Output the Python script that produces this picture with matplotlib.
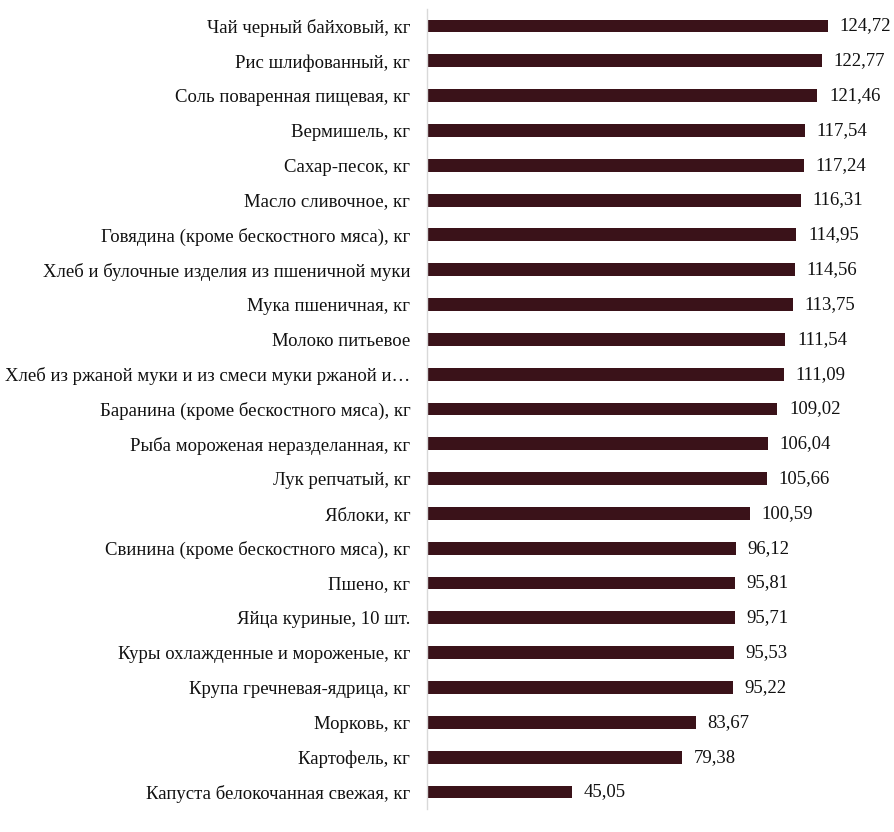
import matplotlib
matplotlib.use("Agg")
import matplotlib.pyplot as plt

# =====================================================
# Данные
# =====================================================
categories = [
    "Чай черный байховый, кг",
    "Рис шлифованный, кг",
    "Соль поваренная пищевая, кг",
    "Вермишель, кг",
    "Сахар-песок, кг",
    "Масло сливочное, кг",
    "Говядина (кроме бескостного мяса), кг",
    "Хлеб и булочные изделия из пшеничной муки",
    "Мука пшеничная, кг",
    "Молоко питьевое",
    "Хлеб из ржаной муки и из смеси муки ржаной и…",
    "Баранина (кроме бескостного мяса), кг",
    "Рыба мороженая неразделанная, кг",
    "Лук репчатый, кг",
    "Яблоки, кг",
    "Свинина (кроме бескостного мяса), кг",
    "Пшено, кг",
    "Яйца куриные, 10 шт.",
    "Куры охлажденные и мороженые, кг",
    "Крупа гречневая-ядрица, кг",
    "Морковь, кг",
    "Картофель, кг",
    "Капуста белокочанная свежая, кг",
]
values = [124.72, 122.77, 121.46, 117.54, 117.24, 116.31, 114.95, 114.56,
          113.75, 111.54, 111.09, 109.02, 106.04, 105.66, 100.59, 96.12,
          95.81, 95.71, 95.53, 95.22, 83.67, 79.38, 45.05]

# =====================================================
# График
# =====================================================
plt.rcParams["font.family"] = ["Liberation Serif", "DejaVu Serif"]

fig = plt.figure(figsize=(8.94, 8.32), dpi=100)
ax = fig.add_axes([427 / 894, 0.0272, 1 - 427 / 894, 0.9625])

pos = list(range(len(categories)))
ax.barh(pos, values, height=0.37, color="#3a1219")

for y, v in zip(pos, values):
    ax.text(v + 3.6, y, f"{v:.2f}".replace(".", ","), va="center", ha="left",
            fontsize=13.5, color="#111111")

ax.set_yticks(pos)
ax.set_yticklabels(categories, fontsize=13.5, color="#111111")
ax.set_ylim(len(categories) - 0.5, -0.5)
ax.set_xlim(0, 145.3)
ax.tick_params(axis="y", length=0, pad=12)
ax.set_xticks([])

for s in ["top", "right", "bottom"]:
    ax.spines[s].set_visible(False)
ax.spines["left"].set_color("#d9d9d9")
ax.spines["left"].set_linewidth(1.0)

fig.savefig("out.png", dpi=100)
